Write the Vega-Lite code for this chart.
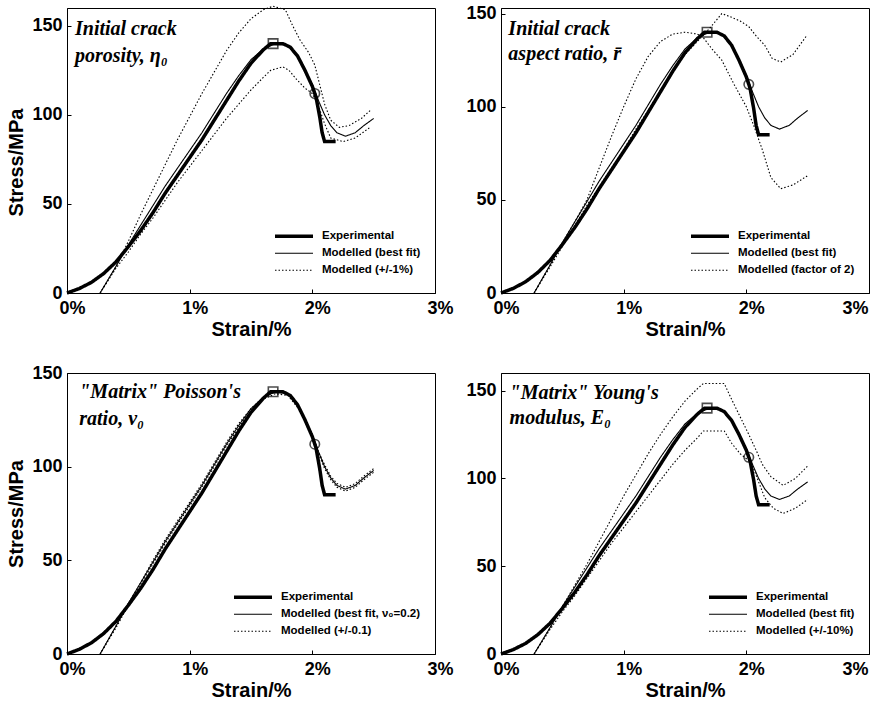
{
  "$schema": "https://vega.github.io/schema/vega-lite/v6.json",
  "background": "white",
  "padding": {"left": 6, "top": 3, "right": 0, "bottom": 0},
  "columns": 2,
  "spacing": {"row": 80, "column": 66},
  "bounds": "flush",
  "resolve": {"scale": {"strokeDash": "independent", "strokeWidth": "independent", "shape": "independent"}, "legend": {"strokeDash": "independent", "strokeWidth": "independent"}},
  "datasets": {
    "markers": [
      {"marker": "square", "strain": 1.68, "stress": 140},
      {"marker": "circle", "strain": 2.02, "stress": 112}
    ],
    "curves": [
      {"panel":"all","curve":"exp","series":"Experimental","strain":0,"stress":0},
      {"panel":"all","curve":"exp","series":"Experimental","strain":0.1,"stress":2.5},
      {"panel":"all","curve":"exp","series":"Experimental","strain":0.2,"stress":6},
      {"panel":"all","curve":"exp","series":"Experimental","strain":0.3,"stress":11},
      {"panel":"all","curve":"exp","series":"Experimental","strain":0.4,"stress":17.5},
      {"panel":"all","curve":"exp","series":"Experimental","strain":0.5,"stress":26},
      {"panel":"all","curve":"exp","series":"Experimental","strain":0.6,"stress":35},
      {"panel":"all","curve":"exp","series":"Experimental","strain":0.7,"stress":45},
      {"panel":"all","curve":"exp","series":"Experimental","strain":0.8,"stress":56},
      {"panel":"all","curve":"exp","series":"Experimental","strain":0.9,"stress":66},
      {"panel":"all","curve":"exp","series":"Experimental","strain":1.0,"stress":76},
      {"panel":"all","curve":"exp","series":"Experimental","strain":1.1,"stress":86},
      {"panel":"all","curve":"exp","series":"Experimental","strain":1.2,"stress":97},
      {"panel":"all","curve":"exp","series":"Experimental","strain":1.3,"stress":108},
      {"panel":"all","curve":"exp","series":"Experimental","strain":1.4,"stress":119},
      {"panel":"all","curve":"exp","series":"Experimental","strain":1.5,"stress":129},
      {"panel":"all","curve":"exp","series":"Experimental","strain":1.6,"stress":136.5},
      {"panel":"all","curve":"exp","series":"Experimental","strain":1.66,"stress":140},
      {"panel":"all","curve":"exp","series":"Experimental","strain":1.76,"stress":140},
      {"panel":"all","curve":"exp","series":"Experimental","strain":1.82,"stress":138},
      {"panel":"all","curve":"exp","series":"Experimental","strain":1.88,"stress":133},
      {"panel":"all","curve":"exp","series":"Experimental","strain":1.94,"stress":125},
      {"panel":"all","curve":"exp","series":"Experimental","strain":2.0,"stress":116},
      {"panel":"all","curve":"exp","series":"Experimental","strain":2.03,"stress":110},
      {"panel":"all","curve":"exp","series":"Experimental","strain":2.06,"stress":99},
      {"panel":"all","curve":"exp","series":"Experimental","strain":2.08,"stress":90},
      {"panel":"all","curve":"exp","series":"Experimental","strain":2.1,"stress":85},
      {"panel":"all","curve":"exp","series":"Experimental","strain":2.19,"stress":85},

      {"panel":"all","curve":"best","series":"Modelled (best fit)","strain":0.27,"stress":0},
      {"panel":"all","curve":"best","series":"Modelled (best fit)","strain":0.4,"stress":15},
      {"panel":"all","curve":"best","series":"Modelled (best fit)","strain":0.5,"stress":27},
      {"panel":"all","curve":"best","series":"Modelled (best fit)","strain":0.6,"stress":38},
      {"panel":"all","curve":"best","series":"Modelled (best fit)","strain":0.7,"stress":49},
      {"panel":"all","curve":"best","series":"Modelled (best fit)","strain":0.8,"stress":60},
      {"panel":"all","curve":"best","series":"Modelled (best fit)","strain":0.9,"stress":70},
      {"panel":"all","curve":"best","series":"Modelled (best fit)","strain":1.0,"stress":80},
      {"panel":"all","curve":"best","series":"Modelled (best fit)","strain":1.1,"stress":90},
      {"panel":"all","curve":"best","series":"Modelled (best fit)","strain":1.2,"stress":101},
      {"panel":"all","curve":"best","series":"Modelled (best fit)","strain":1.3,"stress":112},
      {"panel":"all","curve":"best","series":"Modelled (best fit)","strain":1.4,"stress":122},
      {"panel":"all","curve":"best","series":"Modelled (best fit)","strain":1.5,"stress":131},
      {"panel":"all","curve":"best","series":"Modelled (best fit)","strain":1.6,"stress":137},
      {"panel":"all","curve":"best","series":"Modelled (best fit)","strain":1.7,"stress":140},
      {"panel":"all","curve":"best","series":"Modelled (best fit)","strain":1.8,"stress":139},
      {"panel":"all","curve":"best","series":"Modelled (best fit)","strain":1.9,"stress":131},
      {"panel":"all","curve":"best","series":"Modelled (best fit)","strain":2.0,"stress":117},
      {"panel":"all","curve":"best","series":"Modelled (best fit)","strain":2.05,"stress":108},
      {"panel":"all","curve":"best","series":"Modelled (best fit)","strain":2.1,"stress":100},
      {"panel":"all","curve":"best","series":"Modelled (best fit)","strain":2.15,"stress":94},
      {"panel":"all","curve":"best","series":"Modelled (best fit)","strain":2.2,"stress":90},
      {"panel":"all","curve":"best","series":"Modelled (best fit)","strain":2.27,"stress":88},
      {"panel":"all","curve":"best","series":"Modelled (best fit)","strain":2.35,"stress":90},
      {"panel":"all","curve":"best","series":"Modelled (best fit)","strain":2.42,"stress":94},
      {"panel":"all","curve":"best","series":"Modelled (best fit)","strain":2.5,"stress":98},

      {"panel":"p1","curve":"hi","series":"Modelled (+/-1%)","strain":0.27,"stress":0},
      {"panel":"p1","curve":"hi","series":"Modelled (+/-1%)","strain":0.4,"stress":15},
      {"panel":"p1","curve":"hi","series":"Modelled (+/-1%)","strain":0.5,"stress":29},
      {"panel":"p1","curve":"hi","series":"Modelled (+/-1%)","strain":0.6,"stress":44},
      {"panel":"p1","curve":"hi","series":"Modelled (+/-1%)","strain":0.7,"stress":58},
      {"panel":"p1","curve":"hi","series":"Modelled (+/-1%)","strain":0.8,"stress":72},
      {"panel":"p1","curve":"hi","series":"Modelled (+/-1%)","strain":0.9,"stress":86},
      {"panel":"p1","curve":"hi","series":"Modelled (+/-1%)","strain":1.0,"stress":99},
      {"panel":"p1","curve":"hi","series":"Modelled (+/-1%)","strain":1.1,"stress":112},
      {"panel":"p1","curve":"hi","series":"Modelled (+/-1%)","strain":1.2,"stress":124},
      {"panel":"p1","curve":"hi","series":"Modelled (+/-1%)","strain":1.3,"stress":136},
      {"panel":"p1","curve":"hi","series":"Modelled (+/-1%)","strain":1.4,"stress":146},
      {"panel":"p1","curve":"hi","series":"Modelled (+/-1%)","strain":1.5,"stress":154},
      {"panel":"p1","curve":"hi","series":"Modelled (+/-1%)","strain":1.6,"stress":159},
      {"panel":"p1","curve":"hi","series":"Modelled (+/-1%)","strain":1.68,"stress":161},
      {"panel":"p1","curve":"hi","series":"Modelled (+/-1%)","strain":1.78,"stress":159},
      {"panel":"p1","curve":"hi","series":"Modelled (+/-1%)","strain":1.84,"stress":150},
      {"panel":"p1","curve":"hi","series":"Modelled (+/-1%)","strain":1.9,"stress":142},
      {"panel":"p1","curve":"hi","series":"Modelled (+/-1%)","strain":1.97,"stress":135},
      {"panel":"p1","curve":"hi","series":"Modelled (+/-1%)","strain":2.02,"stress":128},
      {"panel":"p1","curve":"hi","series":"Modelled (+/-1%)","strain":2.06,"stress":117},
      {"panel":"p1","curve":"hi","series":"Modelled (+/-1%)","strain":2.1,"stress":106},
      {"panel":"p1","curve":"hi","series":"Modelled (+/-1%)","strain":2.15,"stress":97},
      {"panel":"p1","curve":"hi","series":"Modelled (+/-1%)","strain":2.22,"stress":93},
      {"panel":"p1","curve":"hi","series":"Modelled (+/-1%)","strain":2.3,"stress":94},
      {"panel":"p1","curve":"hi","series":"Modelled (+/-1%)","strain":2.4,"stress":98},
      {"panel":"p1","curve":"hi","series":"Modelled (+/-1%)","strain":2.48,"stress":103},

      {"panel":"p1","curve":"lo","series":"Modelled (+/-1%)","strain":0.27,"stress":0},
      {"panel":"p1","curve":"lo","series":"Modelled (+/-1%)","strain":0.4,"stress":14},
      {"panel":"p1","curve":"lo","series":"Modelled (+/-1%)","strain":0.5,"stress":23},
      {"panel":"p1","curve":"lo","series":"Modelled (+/-1%)","strain":0.6,"stress":33},
      {"panel":"p1","curve":"lo","series":"Modelled (+/-1%)","strain":0.7,"stress":42},
      {"panel":"p1","curve":"lo","series":"Modelled (+/-1%)","strain":0.8,"stress":52},
      {"panel":"p1","curve":"lo","series":"Modelled (+/-1%)","strain":0.9,"stress":62},
      {"panel":"p1","curve":"lo","series":"Modelled (+/-1%)","strain":1.0,"stress":71},
      {"panel":"p1","curve":"lo","series":"Modelled (+/-1%)","strain":1.1,"stress":80},
      {"panel":"p1","curve":"lo","series":"Modelled (+/-1%)","strain":1.2,"stress":89},
      {"panel":"p1","curve":"lo","series":"Modelled (+/-1%)","strain":1.3,"stress":98},
      {"panel":"p1","curve":"lo","series":"Modelled (+/-1%)","strain":1.4,"stress":106},
      {"panel":"p1","curve":"lo","series":"Modelled (+/-1%)","strain":1.5,"stress":114},
      {"panel":"p1","curve":"lo","series":"Modelled (+/-1%)","strain":1.6,"stress":121},
      {"panel":"p1","curve":"lo","series":"Modelled (+/-1%)","strain":1.66,"stress":125},
      {"panel":"p1","curve":"lo","series":"Modelled (+/-1%)","strain":1.76,"stress":127},
      {"panel":"p1","curve":"lo","series":"Modelled (+/-1%)","strain":1.81,"stress":125},
      {"panel":"p1","curve":"lo","series":"Modelled (+/-1%)","strain":1.87,"stress":120},
      {"panel":"p1","curve":"lo","series":"Modelled (+/-1%)","strain":1.94,"stress":115},
      {"panel":"p1","curve":"lo","series":"Modelled (+/-1%)","strain":2.0,"stress":112},
      {"panel":"p1","curve":"lo","series":"Modelled (+/-1%)","strain":2.05,"stress":105},
      {"panel":"p1","curve":"lo","series":"Modelled (+/-1%)","strain":2.1,"stress":95},
      {"panel":"p1","curve":"lo","series":"Modelled (+/-1%)","strain":2.15,"stress":87},
      {"panel":"p1","curve":"lo","series":"Modelled (+/-1%)","strain":2.25,"stress":85},
      {"panel":"p1","curve":"lo","series":"Modelled (+/-1%)","strain":2.35,"stress":87},
      {"panel":"p1","curve":"lo","series":"Modelled (+/-1%)","strain":2.47,"stress":93},

      {"panel":"p2","curve":"a","series":"Modelled (factor of 2)","strain":0.27,"stress":0},
      {"panel":"p2","curve":"a","series":"Modelled (factor of 2)","strain":0.4,"stress":15},
      {"panel":"p2","curve":"a","series":"Modelled (factor of 2)","strain":0.5,"stress":27},
      {"panel":"p2","curve":"a","series":"Modelled (factor of 2)","strain":0.6,"stress":38},
      {"panel":"p2","curve":"a","series":"Modelled (factor of 2)","strain":0.7,"stress":50},
      {"panel":"p2","curve":"a","series":"Modelled (factor of 2)","strain":0.8,"stress":67},
      {"panel":"p2","curve":"a","series":"Modelled (factor of 2)","strain":0.9,"stress":84},
      {"panel":"p2","curve":"a","series":"Modelled (factor of 2)","strain":1.0,"stress":100},
      {"panel":"p2","curve":"a","series":"Modelled (factor of 2)","strain":1.1,"stress":115},
      {"panel":"p2","curve":"a","series":"Modelled (factor of 2)","strain":1.2,"stress":127},
      {"panel":"p2","curve":"a","series":"Modelled (factor of 2)","strain":1.3,"stress":135},
      {"panel":"p2","curve":"a","series":"Modelled (factor of 2)","strain":1.4,"stress":139},
      {"panel":"p2","curve":"a","series":"Modelled (factor of 2)","strain":1.5,"stress":140},
      {"panel":"p2","curve":"a","series":"Modelled (factor of 2)","strain":1.6,"stress":139},
      {"panel":"p2","curve":"a","series":"Modelled (factor of 2)","strain":1.65,"stress":137},
      {"panel":"p2","curve":"a","series":"Modelled (factor of 2)","strain":1.72,"stress":131},
      {"panel":"p2","curve":"a","series":"Modelled (factor of 2)","strain":1.8,"stress":125},
      {"panel":"p2","curve":"a","series":"Modelled (factor of 2)","strain":1.9,"stress":112},
      {"panel":"p2","curve":"a","series":"Modelled (factor of 2)","strain":2.0,"stress":100},
      {"panel":"p2","curve":"a","series":"Modelled (factor of 2)","strain":2.06,"stress":90},
      {"panel":"p2","curve":"a","series":"Modelled (factor of 2)","strain":2.13,"stress":77},
      {"panel":"p2","curve":"a","series":"Modelled (factor of 2)","strain":2.2,"stress":62},
      {"panel":"p2","curve":"a","series":"Modelled (factor of 2)","strain":2.28,"stress":56},
      {"panel":"p2","curve":"a","series":"Modelled (factor of 2)","strain":2.38,"stress":58},
      {"panel":"p2","curve":"a","series":"Modelled (factor of 2)","strain":2.5,"stress":63},

      {"panel":"p2","curve":"b","series":"Modelled (factor of 2)","strain":0.27,"stress":0},
      {"panel":"p2","curve":"b","series":"Modelled (factor of 2)","strain":0.4,"stress":14},
      {"panel":"p2","curve":"b","series":"Modelled (factor of 2)","strain":0.5,"stress":25},
      {"panel":"p2","curve":"b","series":"Modelled (factor of 2)","strain":0.6,"stress":36},
      {"panel":"p2","curve":"b","series":"Modelled (factor of 2)","strain":0.7,"stress":47},
      {"panel":"p2","curve":"b","series":"Modelled (factor of 2)","strain":0.8,"stress":57},
      {"panel":"p2","curve":"b","series":"Modelled (factor of 2)","strain":0.9,"stress":67},
      {"panel":"p2","curve":"b","series":"Modelled (factor of 2)","strain":1.0,"stress":77},
      {"panel":"p2","curve":"b","series":"Modelled (factor of 2)","strain":1.1,"stress":88},
      {"panel":"p2","curve":"b","series":"Modelled (factor of 2)","strain":1.2,"stress":98},
      {"panel":"p2","curve":"b","series":"Modelled (factor of 2)","strain":1.3,"stress":109},
      {"panel":"p2","curve":"b","series":"Modelled (factor of 2)","strain":1.4,"stress":119},
      {"panel":"p2","curve":"b","series":"Modelled (factor of 2)","strain":1.5,"stress":128},
      {"panel":"p2","curve":"b","series":"Modelled (factor of 2)","strain":1.6,"stress":135},
      {"panel":"p2","curve":"b","series":"Modelled (factor of 2)","strain":1.7,"stress":142},
      {"panel":"p2","curve":"b","series":"Modelled (factor of 2)","strain":1.8,"stress":150},
      {"panel":"p2","curve":"b","series":"Modelled (factor of 2)","strain":1.88,"stress":148},
      {"panel":"p2","curve":"b","series":"Modelled (factor of 2)","strain":1.95,"stress":146},
      {"panel":"p2","curve":"b","series":"Modelled (factor of 2)","strain":2.02,"stress":143},
      {"panel":"p2","curve":"b","series":"Modelled (factor of 2)","strain":2.08,"stress":138},
      {"panel":"p2","curve":"b","series":"Modelled (factor of 2)","strain":2.15,"stress":133},
      {"panel":"p2","curve":"b","series":"Modelled (factor of 2)","strain":2.21,"stress":126},
      {"panel":"p2","curve":"b","series":"Modelled (factor of 2)","strain":2.28,"stress":124},
      {"panel":"p2","curve":"b","series":"Modelled (factor of 2)","strain":2.38,"stress":128},
      {"panel":"p2","curve":"b","series":"Modelled (factor of 2)","strain":2.49,"stress":138},

      {"panel":"p3","curve":"a","series":"Modelled (+/-0.1)","strain":0.27,"stress":0},
      {"panel":"p3","curve":"a","series":"Modelled (+/-0.1)","strain":0.4,"stress":15},
      {"panel":"p3","curve":"a","series":"Modelled (+/-0.1)","strain":0.5,"stress":27},
      {"panel":"p3","curve":"a","series":"Modelled (+/-0.1)","strain":0.6,"stress":38},
      {"panel":"p3","curve":"a","series":"Modelled (+/-0.1)","strain":0.7,"stress":50},
      {"panel":"p3","curve":"a","series":"Modelled (+/-0.1)","strain":0.8,"stress":61},
      {"panel":"p3","curve":"a","series":"Modelled (+/-0.1)","strain":0.9,"stress":71},
      {"panel":"p3","curve":"a","series":"Modelled (+/-0.1)","strain":1.0,"stress":81},
      {"panel":"p3","curve":"a","series":"Modelled (+/-0.1)","strain":1.1,"stress":91},
      {"panel":"p3","curve":"a","series":"Modelled (+/-0.1)","strain":1.2,"stress":102},
      {"panel":"p3","curve":"a","series":"Modelled (+/-0.1)","strain":1.3,"stress":113},
      {"panel":"p3","curve":"a","series":"Modelled (+/-0.1)","strain":1.4,"stress":123},
      {"panel":"p3","curve":"a","series":"Modelled (+/-0.1)","strain":1.5,"stress":131},
      {"panel":"p3","curve":"a","series":"Modelled (+/-0.1)","strain":1.6,"stress":137},
      {"panel":"p3","curve":"a","series":"Modelled (+/-0.1)","strain":1.7,"stress":140},
      {"panel":"p3","curve":"a","series":"Modelled (+/-0.1)","strain":1.8,"stress":139},
      {"panel":"p3","curve":"a","series":"Modelled (+/-0.1)","strain":1.9,"stress":131},
      {"panel":"p3","curve":"a","series":"Modelled (+/-0.1)","strain":2.0,"stress":117},
      {"panel":"p3","curve":"a","series":"Modelled (+/-0.1)","strain":2.05,"stress":108},
      {"panel":"p3","curve":"a","series":"Modelled (+/-0.1)","strain":2.1,"stress":101},
      {"panel":"p3","curve":"a","series":"Modelled (+/-0.1)","strain":2.15,"stress":95},
      {"panel":"p3","curve":"a","series":"Modelled (+/-0.1)","strain":2.2,"stress":91},
      {"panel":"p3","curve":"a","series":"Modelled (+/-0.1)","strain":2.27,"stress":89},
      {"panel":"p3","curve":"a","series":"Modelled (+/-0.1)","strain":2.35,"stress":91},
      {"panel":"p3","curve":"a","series":"Modelled (+/-0.1)","strain":2.42,"stress":95},
      {"panel":"p3","curve":"a","series":"Modelled (+/-0.1)","strain":2.5,"stress":99},

      {"panel":"p3","curve":"b","series":"Modelled (+/-0.1)","strain":0.27,"stress":0},
      {"panel":"p3","curve":"b","series":"Modelled (+/-0.1)","strain":0.4,"stress":14},
      {"panel":"p3","curve":"b","series":"Modelled (+/-0.1)","strain":0.5,"stress":26},
      {"panel":"p3","curve":"b","series":"Modelled (+/-0.1)","strain":0.6,"stress":37},
      {"panel":"p3","curve":"b","series":"Modelled (+/-0.1)","strain":0.7,"stress":48},
      {"panel":"p3","curve":"b","series":"Modelled (+/-0.1)","strain":0.8,"stress":59},
      {"panel":"p3","curve":"b","series":"Modelled (+/-0.1)","strain":0.9,"stress":69},
      {"panel":"p3","curve":"b","series":"Modelled (+/-0.1)","strain":1.0,"stress":79},
      {"panel":"p3","curve":"b","series":"Modelled (+/-0.1)","strain":1.1,"stress":89},
      {"panel":"p3","curve":"b","series":"Modelled (+/-0.1)","strain":1.2,"stress":100},
      {"panel":"p3","curve":"b","series":"Modelled (+/-0.1)","strain":1.3,"stress":111},
      {"panel":"p3","curve":"b","series":"Modelled (+/-0.1)","strain":1.4,"stress":121},
      {"panel":"p3","curve":"b","series":"Modelled (+/-0.1)","strain":1.5,"stress":130},
      {"panel":"p3","curve":"b","series":"Modelled (+/-0.1)","strain":1.6,"stress":136},
      {"panel":"p3","curve":"b","series":"Modelled (+/-0.1)","strain":1.7,"stress":139},
      {"panel":"p3","curve":"b","series":"Modelled (+/-0.1)","strain":1.8,"stress":138},
      {"panel":"p3","curve":"b","series":"Modelled (+/-0.1)","strain":1.9,"stress":130},
      {"panel":"p3","curve":"b","series":"Modelled (+/-0.1)","strain":2.0,"stress":116},
      {"panel":"p3","curve":"b","series":"Modelled (+/-0.1)","strain":2.05,"stress":107},
      {"panel":"p3","curve":"b","series":"Modelled (+/-0.1)","strain":2.1,"stress":99},
      {"panel":"p3","curve":"b","series":"Modelled (+/-0.1)","strain":2.15,"stress":93},
      {"panel":"p3","curve":"b","series":"Modelled (+/-0.1)","strain":2.2,"stress":89},
      {"panel":"p3","curve":"b","series":"Modelled (+/-0.1)","strain":2.27,"stress":87},
      {"panel":"p3","curve":"b","series":"Modelled (+/-0.1)","strain":2.35,"stress":89},
      {"panel":"p3","curve":"b","series":"Modelled (+/-0.1)","strain":2.42,"stress":93},
      {"panel":"p3","curve":"b","series":"Modelled (+/-0.1)","strain":2.5,"stress":97},

      {"panel":"p4","curve":"hi","series":"Modelled (+/-10%)","strain":0.27,"stress":0},
      {"panel":"p4","curve":"hi","series":"Modelled (+/-10%)","strain":0.4,"stress":15},
      {"panel":"p4","curve":"hi","series":"Modelled (+/-10%)","strain":0.5,"stress":27},
      {"panel":"p4","curve":"hi","series":"Modelled (+/-10%)","strain":0.6,"stress":39},
      {"panel":"p4","curve":"hi","series":"Modelled (+/-10%)","strain":0.7,"stress":51},
      {"panel":"p4","curve":"hi","series":"Modelled (+/-10%)","strain":0.8,"stress":64},
      {"panel":"p4","curve":"hi","series":"Modelled (+/-10%)","strain":0.9,"stress":77},
      {"panel":"p4","curve":"hi","series":"Modelled (+/-10%)","strain":1.0,"stress":90},
      {"panel":"p4","curve":"hi","series":"Modelled (+/-10%)","strain":1.1,"stress":102},
      {"panel":"p4","curve":"hi","series":"Modelled (+/-10%)","strain":1.2,"stress":114},
      {"panel":"p4","curve":"hi","series":"Modelled (+/-10%)","strain":1.3,"stress":125},
      {"panel":"p4","curve":"hi","series":"Modelled (+/-10%)","strain":1.4,"stress":135},
      {"panel":"p4","curve":"hi","series":"Modelled (+/-10%)","strain":1.5,"stress":144},
      {"panel":"p4","curve":"hi","series":"Modelled (+/-10%)","strain":1.6,"stress":151},
      {"panel":"p4","curve":"hi","series":"Modelled (+/-10%)","strain":1.65,"stress":154},
      {"panel":"p4","curve":"hi","series":"Modelled (+/-10%)","strain":1.82,"stress":154},
      {"panel":"p4","curve":"hi","series":"Modelled (+/-10%)","strain":1.88,"stress":145},
      {"panel":"p4","curve":"hi","series":"Modelled (+/-10%)","strain":1.95,"stress":135},
      {"panel":"p4","curve":"hi","series":"Modelled (+/-10%)","strain":2.02,"stress":125},
      {"panel":"p4","curve":"hi","series":"Modelled (+/-10%)","strain":2.08,"stress":116},
      {"panel":"p4","curve":"hi","series":"Modelled (+/-10%)","strain":2.13,"stress":108},
      {"panel":"p4","curve":"hi","series":"Modelled (+/-10%)","strain":2.2,"stress":101},
      {"panel":"p4","curve":"hi","series":"Modelled (+/-10%)","strain":2.3,"stress":96},
      {"panel":"p4","curve":"hi","series":"Modelled (+/-10%)","strain":2.4,"stress":100},
      {"panel":"p4","curve":"hi","series":"Modelled (+/-10%)","strain":2.5,"stress":107},

      {"panel":"p4","curve":"lo","series":"Modelled (+/-10%)","strain":0.27,"stress":0},
      {"panel":"p4","curve":"lo","series":"Modelled (+/-10%)","strain":0.4,"stress":14},
      {"panel":"p4","curve":"lo","series":"Modelled (+/-10%)","strain":0.5,"stress":24},
      {"panel":"p4","curve":"lo","series":"Modelled (+/-10%)","strain":0.6,"stress":33},
      {"panel":"p4","curve":"lo","series":"Modelled (+/-10%)","strain":0.7,"stress":43},
      {"panel":"p4","curve":"lo","series":"Modelled (+/-10%)","strain":0.8,"stress":53},
      {"panel":"p4","curve":"lo","series":"Modelled (+/-10%)","strain":0.9,"stress":63},
      {"panel":"p4","curve":"lo","series":"Modelled (+/-10%)","strain":1.0,"stress":72},
      {"panel":"p4","curve":"lo","series":"Modelled (+/-10%)","strain":1.1,"stress":81},
      {"panel":"p4","curve":"lo","series":"Modelled (+/-10%)","strain":1.2,"stress":90},
      {"panel":"p4","curve":"lo","series":"Modelled (+/-10%)","strain":1.3,"stress":99},
      {"panel":"p4","curve":"lo","series":"Modelled (+/-10%)","strain":1.4,"stress":108},
      {"panel":"p4","curve":"lo","series":"Modelled (+/-10%)","strain":1.5,"stress":116},
      {"panel":"p4","curve":"lo","series":"Modelled (+/-10%)","strain":1.6,"stress":123},
      {"panel":"p4","curve":"lo","series":"Modelled (+/-10%)","strain":1.65,"stress":127},
      {"panel":"p4","curve":"lo","series":"Modelled (+/-10%)","strain":1.82,"stress":127},
      {"panel":"p4","curve":"lo","series":"Modelled (+/-10%)","strain":1.88,"stress":120},
      {"panel":"p4","curve":"lo","series":"Modelled (+/-10%)","strain":1.95,"stress":114},
      {"panel":"p4","curve":"lo","series":"Modelled (+/-10%)","strain":2.04,"stress":109},
      {"panel":"p4","curve":"lo","series":"Modelled (+/-10%)","strain":2.1,"stress":98},
      {"panel":"p4","curve":"lo","series":"Modelled (+/-10%)","strain":2.15,"stress":89},
      {"panel":"p4","curve":"lo","series":"Modelled (+/-10%)","strain":2.22,"stress":83},
      {"panel":"p4","curve":"lo","series":"Modelled (+/-10%)","strain":2.3,"stress":80},
      {"panel":"p4","curve":"lo","series":"Modelled (+/-10%)","strain":2.4,"stress":83},
      {"panel":"p4","curve":"lo","series":"Modelled (+/-10%)","strain":2.5,"stress":88}
    ]
  },
  "concat": [
    {
      "width": 368, "height": 285,
      "layer": [
        {
          "data": {"name": "curves"},
          "transform": [{"filter": "datum.panel == 'all' || datum.panel == 'p1'"}],
          "mark": {"type": "line", "color": "black"},
          "encoding": {
            "x": {"field": "strain", "type": "quantitative", "scale": {"domain": [0, 3], "nice": false}, "axis": {"title": "Strain/%", "values": [0, 1, 2, 3], "labelExpr": "datum.value + '%'"}},
            "y": {"field": "stress", "type": "quantitative", "scale": {"domain": [0, 160], "nice": false}, "axis": {"title": "Stress/MPa", "titleY": 154, "values": [0, 50, 100, 150]}},
            "detail": {"field": "curve"},
            "strokeDash": {"field": "series", "type": "nominal", "scale": {"domain": ["Experimental", "Modelled (best fit)", "Modelled (+/-1%)"], "range": [[1, 0], [1, 0], [1.5, 2]]}, "legend": {"title": null}},
            "strokeWidth": {"field": "series", "type": "nominal", "scale": {"type": "ordinal", "domain": ["Experimental", "Modelled (best fit)", "Modelled (+/-1%)"], "range": [3.5, 1.1, 1.1]}, "legend": {"title": null}}
          }
        },
        {
          "data": {"name": "markers"},
          "mark": {"type": "point", "color": "black", "filled": false, "strokeWidth": 1.6, "size": 90},
          "encoding": {
            "x": {"field": "strain", "type": "quantitative"},
            "y": {"field": "stress", "type": "quantitative"},
            "shape": {"field": "marker", "type": "nominal", "scale": {"domain": ["square", "circle"], "range": ["square", "circle"]}, "legend": null}
          }
        },
        {
          "data": {"values": [{}]},
          "mark": {"type": "text", "text": ["Initial crack", "porosity, η₀"], "align": "left", "baseline": "alphabetic", "font": "Liberation Serif", "fontStyle": "italic", "fontWeight": "bold", "fontSize": 20, "lineHeight": 27, "color": "black"},
          "encoding": {"x": {"datum": 0.065}, "y": {"datum": 145}}
        }
      ]
    },
    {
      "width": 368, "height": 285,
      "layer": [
        {
          "data": {"name": "curves"},
          "transform": [{"filter": "datum.panel == 'all' || datum.panel == 'p2'"}],
          "mark": {"type": "line", "color": "black"},
          "encoding": {
            "x": {"field": "strain", "type": "quantitative", "scale": {"domain": [0, 3], "nice": false}, "axis": {"title": "Strain/%", "values": [0, 1, 2, 3], "labelExpr": "datum.value + '%'", "labelAlign": {"condition": {"test": "datum.value == 3", "value": "right"}, "value": "center"}, "labelOffset": {"condition": {"test": "datum.value == 3", "value": -1}, "value": 5}}},
            "y": {"field": "stress", "type": "quantitative", "scale": {"domain": [0, 153], "nice": false}, "axis": {"title": null, "values": [0, 50, 100, 150]}},
            "detail": {"field": "curve"},
            "strokeDash": {"field": "series", "type": "nominal", "scale": {"domain": ["Experimental", "Modelled (best fit)", "Modelled (factor of 2)"], "range": [[1, 0], [1, 0], [1.5, 2]]}, "legend": {"title": null}},
            "strokeWidth": {"field": "series", "type": "nominal", "scale": {"type": "ordinal", "domain": ["Experimental", "Modelled (best fit)", "Modelled (factor of 2)"], "range": [3.5, 1.1, 1.1]}, "legend": {"title": null}}
          }
        },
        {
          "data": {"name": "markers"},
          "mark": {"type": "point", "color": "black", "filled": false, "strokeWidth": 1.6, "size": 90},
          "encoding": {
            "x": {"field": "strain", "type": "quantitative"},
            "y": {"field": "stress", "type": "quantitative"},
            "shape": {"field": "marker", "type": "nominal", "scale": {"domain": ["square", "circle"], "range": ["square", "circle"]}, "legend": null}
          }
        },
        {
          "data": {"values": [{}]},
          "mark": {"type": "text", "text": ["Initial crack", "aspect ratio, r̄"], "align": "left", "baseline": "alphabetic", "font": "Liberation Serif", "fontStyle": "italic", "fontWeight": "bold", "fontSize": 20, "lineHeight": 25, "color": "black"},
          "encoding": {"x": {"datum": 0.06}, "y": {"datum": 138.5}}
        }
      ]
    },
    {
      "width": 368, "height": 281,
      "layer": [
        {
          "data": {"name": "curves"},
          "transform": [{"filter": "datum.panel == 'all' || datum.panel == 'p3'"}],
          "mark": {"type": "line", "color": "black"},
          "encoding": {
            "x": {"field": "strain", "type": "quantitative", "scale": {"domain": [0, 3], "nice": false}, "axis": {"title": "Strain/%", "values": [0, 1, 2, 3], "labelExpr": "datum.value + '%'"}},
            "y": {"field": "stress", "type": "quantitative", "scale": {"domain": [0, 150], "nice": false}, "axis": {"title": "Stress/MPa", "values": [0, 50, 100, 150]}},
            "detail": {"field": "curve"},
            "strokeDash": {"field": "series", "type": "nominal", "scale": {"domain": ["Experimental", "Modelled (best fit)", "Modelled (+/-0.1)"], "range": [[1, 0], [1, 0], [1.5, 2]]}, "legend": {"title": null, "labelExpr": "datum.label == 'Modelled (best fit)' ? 'Modelled (best fit, ν₀=0.2)' : datum.label"}},
            "strokeWidth": {"field": "series", "type": "nominal", "scale": {"type": "ordinal", "domain": ["Experimental", "Modelled (best fit)", "Modelled (+/-0.1)"], "range": [3.5, 1.1, 1.1]}, "legend": {"title": null, "labelExpr": "datum.label == 'Modelled (best fit)' ? 'Modelled (best fit, ν₀=0.2)' : datum.label"}}
          }
        },
        {
          "data": {"name": "markers"},
          "mark": {"type": "point", "color": "black", "filled": false, "strokeWidth": 1.6, "size": 90},
          "encoding": {
            "x": {"field": "strain", "type": "quantitative"},
            "y": {"field": "stress", "type": "quantitative"},
            "shape": {"field": "marker", "type": "nominal", "scale": {"domain": ["square", "circle"], "range": ["square", "circle"]}, "legend": null}
          }
        },
        {
          "data": {"values": [{}]},
          "mark": {"type": "text", "text": ["\"Matrix\" Poisson's", "ratio, ν₀"], "align": "left", "baseline": "alphabetic", "font": "Liberation Serif", "fontStyle": "italic", "fontWeight": "bold", "fontSize": 20, "lineHeight": 27, "color": "black"},
          "encoding": {"x": {"datum": 0.1}, "y": {"datum": 136.5}}
        }
      ]
    },
    {
      "width": 368, "height": 281,
      "layer": [
        {
          "data": {"name": "curves"},
          "transform": [{"filter": "datum.panel == 'all' || datum.panel == 'p4'"}],
          "mark": {"type": "line", "color": "black"},
          "encoding": {
            "x": {"field": "strain", "type": "quantitative", "scale": {"domain": [0, 3], "nice": false}, "axis": {"title": "Strain/%", "values": [0, 1, 2, 3], "labelExpr": "datum.value + '%'", "labelAlign": {"condition": {"test": "datum.value == 3", "value": "right"}, "value": "center"}, "labelOffset": {"condition": {"test": "datum.value == 3", "value": -1}, "value": 5}}},
            "y": {"field": "stress", "type": "quantitative", "scale": {"domain": [0, 160], "nice": false}, "axis": {"title": null, "values": [0, 50, 100, 150]}},
            "detail": {"field": "curve"},
            "strokeDash": {"field": "series", "type": "nominal", "scale": {"domain": ["Experimental", "Modelled (best fit)", "Modelled (+/-10%)"], "range": [[1, 0], [1, 0], [1.5, 2]]}, "legend": {"title": null}},
            "strokeWidth": {"field": "series", "type": "nominal", "scale": {"type": "ordinal", "domain": ["Experimental", "Modelled (best fit)", "Modelled (+/-10%)"], "range": [3.5, 1.1, 1.1]}, "legend": {"title": null}}
          }
        },
        {
          "data": {"name": "markers"},
          "mark": {"type": "point", "color": "black", "filled": false, "strokeWidth": 1.6, "size": 90},
          "encoding": {
            "x": {"field": "strain", "type": "quantitative"},
            "y": {"field": "stress", "type": "quantitative"},
            "shape": {"field": "marker", "type": "nominal", "scale": {"domain": ["square", "circle"], "range": ["square", "circle"]}, "legend": null}
          }
        },
        {
          "data": {"values": [{}]},
          "mark": {"type": "text", "text": ["\"Matrix\" Young's", "modulus, E₀"], "align": "left", "baseline": "alphabetic", "font": "Liberation Serif", "fontStyle": "italic", "fontWeight": "bold", "fontSize": 20, "lineHeight": 25, "color": "black"},
          "encoding": {"x": {"datum": 0.07}, "y": {"datum": 145}}
        }
      ]
    }
  ],
  "config": {
    "font": "Liberation Sans",
    "view": {"stroke": "black", "strokeWidth": 1},
    "axis": {
      "labelFont": "Liberation Sans", "labelFontWeight": "bold", "labelFontSize": 18, "labelColor": "black",
      "titleFont": "Liberation Sans", "titleFontWeight": "bold", "titleFontSize": 20, "titleColor": "black",
      "domainColor": "black", "ticks": true, "tickSize": -4, "tickColor": "black", "grid": false, "labelFlush": false
    },
    "axisX": {"labelPadding": 10, "titlePadding": 2, "labelOffset": 5},
    "axisY": {"labelPadding": 9, "titlePadding": 5},
    "legend": {
      "orient": "bottom-right", "offset": 14, "padding": 0,
      "symbolType": "stroke", "symbolSize": 1444, "symbolStrokeColor": "black",
      "clipHeight": 16.5, "rowPadding": 0,
      "labelFont": "Liberation Sans", "labelFontWeight": "bold", "labelFontSize": 11.5, "labelColor": "black",
      "labelOffset": 7, "labelLimit": 400
    }
  }
}
